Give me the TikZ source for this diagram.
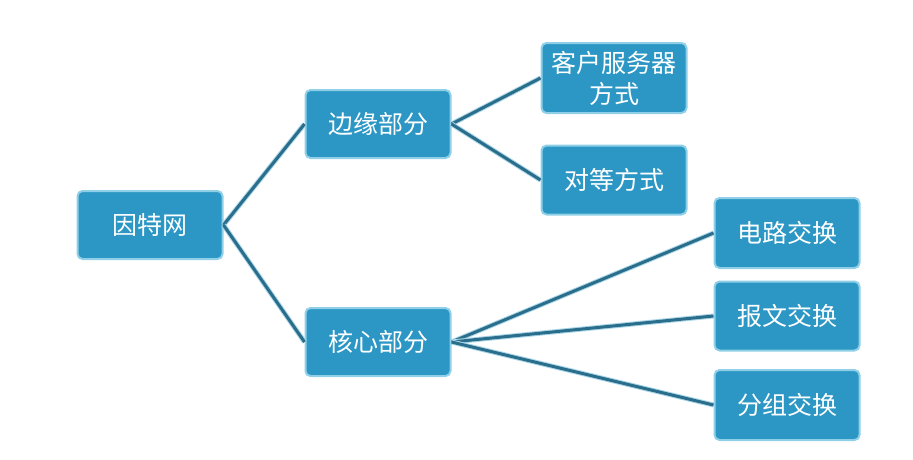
\documentclass[tikz,border=0pt]{standalone}
\usepackage{fontspec}
\newfontfamily\cjk{Noto Sans CJK SC}
\definecolor{boxfill}{HTML}{2C97C4}
\definecolor{boxedge}{HTML}{8FD0E8}
\definecolor{linkcol}{HTML}{2B6E8C}
\definecolor{linkhalo}{HTML}{A9D6E8}
\tikzset{
  box/.style={draw=boxedge, line width=2pt, fill=boxfill, rounded corners=5pt,
    minimum width=145pt, minimum height=68pt, inner sep=0pt,
    text=white, font=\cjk\fontsize{25}{31}\selectfont, align=center},
  link/.style={draw=linkcol, line width=3pt,
    preaction={draw=linkhalo, line width=5pt}}
}
\begin{document}
\begin{tikzpicture}[x=1pt,y=-1pt]
\useasboundingbox (0,0) rectangle (913,459);
\node[box] (root) at (150,225) {因特网};
\node[box] (edge) at (378,124) {边缘部分};
\node[box] (core) at (378,342) {核心部分};
\node[box, minimum height=70pt] (cs) at (614,78) {客户服务器\\方式};
\node[box, minimum height=69pt] (p2p) at (614,180) {对等方式};
\node[box, minimum height=70pt] (circ) at (787,233) {电路交换};
\node[box, minimum height=69pt] (msg) at (787,316) {报文交换};
\node[box, minimum height=70pt] (pkt) at (787,405) {分组交换};
\begin{scope}[on background layer/.style={}]
\draw[link] (root.east) -- (edge.west);
\draw[link] (root.east) -- (core.west);
\draw[link] (edge.east) -- (cs.west);
\draw[link] (edge.east) -- (p2p.west);
\draw[link] (core.east) -- (circ.west);
\draw[link] (core.east) -- (msg.west);
\draw[link] (core.east) -- (pkt.west);
\end{scope}
\end{tikzpicture}
\end{document}
